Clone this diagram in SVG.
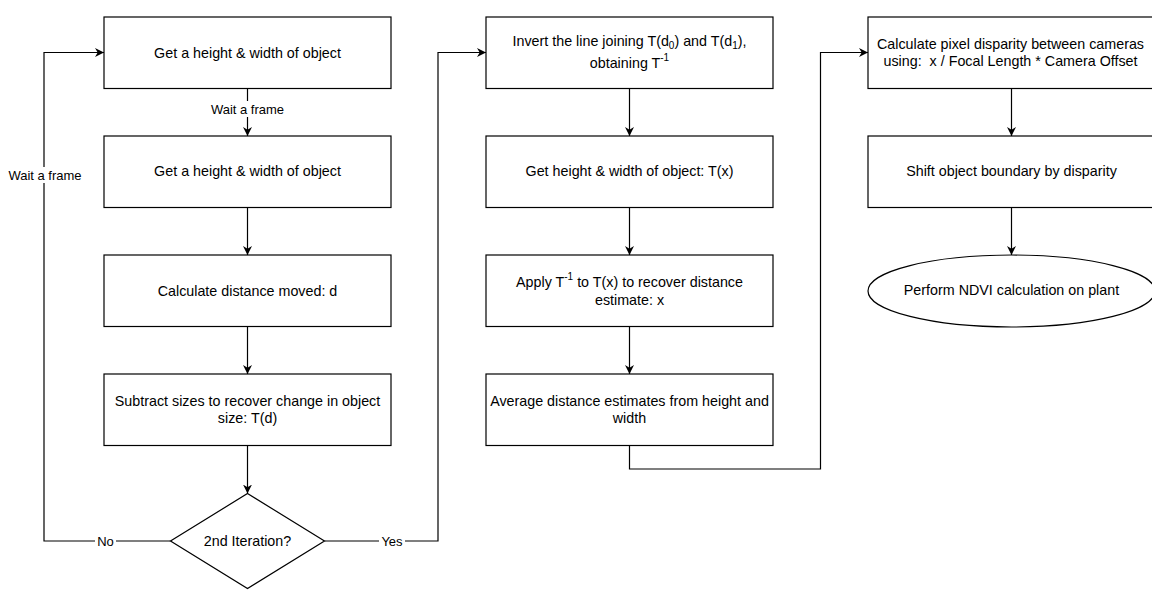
<svg xmlns="http://www.w3.org/2000/svg" width="1152" height="590" viewBox="0 0 1152 590">
<style>
.box{fill:#ffffff;stroke:#000000;stroke-width:1.2}
.ln{fill:none;stroke:#000000;stroke-width:1.2}
text{font-family:"Liberation Sans",Arial,Helvetica,sans-serif;fill:#000000;text-anchor:middle;dominant-baseline:central}
.t{font-size:14.3px}
.lbl{font-size:13px}
.sm{font-size:10px}
.pre{white-space:pre}
</style>
<defs>
<marker id="arr" viewBox="0 0 10 10" refX="10" refY="5" markerWidth="9" markerHeight="9" markerUnits="userSpaceOnUse" orient="auto">
<path d="M0,0 L10,5 L0,10 L3,5 Z" fill="#000000"/>
</marker>
</defs>
<rect x="0" y="0" width="1152" height="590" fill="#ffffff"/>
<g id="connectors">
<path class="ln" d="M247.5,88.5 V136" marker-end="url(#arr)"/>
<path class="ln" d="M247.5,207.5 V255" marker-end="url(#arr)"/>
<path class="ln" d="M247.5,326.5 V374" marker-end="url(#arr)"/>
<path class="ln" d="M247.5,445.5 V493.5" marker-end="url(#arr)"/>
<path class="ln" d="M170.5,541 H44 V52.5 H104" marker-end="url(#arr)"/>
<path class="ln" d="M324.5,541 H438 V52.5 H486" marker-end="url(#arr)"/>
<path class="ln" d="M629.5,88.5 V136" marker-end="url(#arr)"/>
<path class="ln" d="M629.5,207.5 V255" marker-end="url(#arr)"/>
<path class="ln" d="M629.5,326.5 V374" marker-end="url(#arr)"/>
<path class="ln" d="M629.5,445.5 V469 H820.5 V52.5 H868" marker-end="url(#arr)"/>
<path class="ln" d="M1011.5,88.5 V136" marker-end="url(#arr)"/>
<path class="ln" d="M1011.5,207.5 V255" marker-end="url(#arr)"/>
<rect x="206" y="101" width="83" height="16" fill="#ffffff"/>
<text class="lbl" x="247.5" y="109">Wait a frame</text>
<rect x="6" y="167" width="78" height="16" fill="#ffffff"/>
<text class="lbl" x="45" y="175">Wait a frame</text>
<rect x="95" y="533" width="21" height="16" fill="#ffffff"/>
<text class="lbl" x="105.5" y="541">No</text>
<rect x="379" y="533" width="26" height="16" fill="#ffffff"/>
<text class="lbl" x="392" y="541">Yes</text>
</g>
<g id="n1"><rect class="box" x="104" y="17" width="287" height="71.5"/><text class="t" x="247.5" y="52.5">Get a height &amp; width of object</text></g>
<g id="n2"><rect class="box" x="104" y="136" width="287" height="71.5"/><text class="t" x="247.5" y="171">Get a height &amp; width of object</text></g>
<g id="n3"><rect class="box" x="104" y="255" width="287" height="71.5"/><text class="t" x="247.5" y="290.5">Calculate distance moved: d</text></g>
<g id="n4"><rect class="box" x="104" y="374" width="287" height="71.5"/><text class="t" x="247.5" y="400.5">Subtract sizes to recover change in object</text><text class="t" x="247.5" y="418">size: T(d)</text></g>
<g id="n5"><path class="box" d="M247.5,493.5 L324.5,541 L247.5,588.5 L170.5,541 Z"/><text class="t" x="247.5" y="541">2nd Iteration?</text></g>
<g id="m1"><rect class="box" x="486" y="17" width="287" height="71.5"/>
<text class="t" x="629.5" y="41">Invert the line joining T(d<tspan class="sm" dy="4">0</tspan><tspan dy="-4">) and T(d</tspan><tspan class="sm" dy="4">1</tspan><tspan dy="-4">),</tspan></text>
<text class="t" x="629.5" y="63">obtaining T<tspan class="sm" dy="-6">-1</tspan></text></g>
<g id="m2"><rect class="box" x="486" y="136" width="287" height="71.5"/><text class="t" x="629.5" y="171">Get height &amp; width of object: T(x)</text></g>
<g id="m3"><rect class="box" x="486" y="255" width="287" height="71.5"/>
<text class="t" x="629.5" y="282">Apply T<tspan class="sm" dy="-6">-1</tspan><tspan dy="6"> to T(x) to recover distance</tspan></text>
<text class="t" x="629.5" y="300">estimate: x</text></g>
<g id="m4"><rect class="box" x="486" y="374" width="287" height="71.5"/><text class="t" x="629.5" y="400.5">Average distance estimates from height and</text><text class="t" x="629.5" y="418">width</text></g>
<g id="r1"><rect class="box" x="868" y="17" width="287" height="71.5"/><text class="t" x="1010.5" y="43.5">Calculate pixel disparity between cameras</text><text class="t pre" x="1010.5" y="61" xml:space="preserve">using:  x / Focal Length * Camera Offset</text></g>
<g id="r2"><rect class="box" x="868" y="136" width="287" height="71.5"/><text class="t" x="1011.5" y="171">Shift object boundary by disparity</text></g>
<g id="r3"><ellipse class="box" cx="1011.5" cy="291" rx="143.5" ry="36"/><text class="t" x="1011.5" y="290">Perform NDVI calculation on plant</text></g>
</svg>
